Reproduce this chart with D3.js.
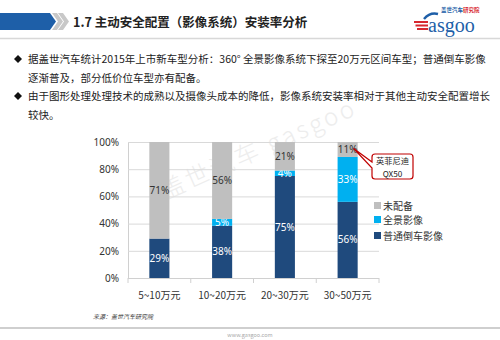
<!DOCTYPE html>
<html><head><meta charset="utf-8">
<script src="https://cdn.jsdelivr.net/npm/d3@7"></script>
<style>
html,body{margin:0;padding:0;background:#fff;}
svg{display:block;font-family:"Noto Sans CJK SC","Noto Sans",sans-serif;}
</style></head>
<body>
<svg id="c" width="500" height="340"></svg>
<script>
const categories = ["5~10万元","10~20万元","20~30万元","30~50万元"];
const seriesNames = ["普通倒车影像","全景影像","未配备"];
const rearCam = [29,38,75,56];
const surround = [0,5,4,33];
const none = [71,56,21,11];
const yTicks = [0,20,40,60,80,100];
const colors = ["#1f4a7d","#00b0f0","#bfbfbf"];
const bullets = [
  ["据盖世汽车统计2015年上市新车型分析：360°  全景影像系统下探至20万元区间车型；普通倒车影像","逐渐普及，部分低价位车型亦有配备。"],
  ["由于图形处理处理技术的成熟以及摄像头成本的降低，影像系统安装率相对于其他主动安全配置增长","较快。"]
];
const title = "1.7 主动安全配置（影像系统）安装率分析";
const callout = ["英菲尼迪","QX50"];

const svg = d3.select("#c");

// header
svg.append("path").attr("d","M0,13 L50,13 L56,21.5 L50,30 L0,30 Z").attr("fill","#1e5fa8");
[0,6].forEach(o=>{
  svg.append("path").attr("d",`M${52+o},13 L${57+o},13 L${63+o},21.5 L${57+o},30 L${52+o},30 L${58+o},21.5 Z`).attr("fill","#c8c8c8");
});
svg.append("text").attr("x",73).attr("y",27).attr("font-size",12.5).attr("font-weight","bold").attr("fill","#222").text(title);
svg.append("line").attr("x1",0).attr("x2",500).attr("y1",38.5).attr("y2",38.5).attr("stroke","#d8d8d8").attr("stroke-width",1.5);
// logo
const lg = svg.append("g");
[0,3.5,7].forEach((d,i)=>lg.append("rect").attr("x",414+i*1.5).attr("y",21+d).attr("width",14-i*1.5).attr("height",2).attr("fill","#d7282f"));
lg.append("path").attr("d","M424,19 Q430,12 438,14").attr("fill","none").attr("stroke","#1e5fa8").attr("stroke-width",2.5);
lg.append("text").attr("x",428).attr("y",32).attr("font-family","Liberation Serif,serif").attr("font-size",20).attr("fill","#1e5fa8").text("asgoo");
const lt = lg.append("text").attr("x",441).attr("y",12.3).attr("font-size",5.5).attr("font-weight","bold");
lt.append("tspan").attr("fill","#1e5fa8").text("盖世汽车");
lt.append("tspan").attr("fill","#d7282f").text("研究院");

// bullets
let ly = 63;
bullets.forEach(b=>{
  svg.append("path").attr("d",`M${18},${ly-8} l4,4 l-4,4 l-4,-4 Z`).attr("fill","#111");
  b.forEach(line=>{
    svg.append("text").attr("x",28).attr("y",ly).attr("font-size",10.5).attr("fill","#222").text(line);
    ly += 18.5;
  });
});

// chart
const x0 = 128, x1 = 379, yTop = 142, yBot = 278;
const x = d3.scaleBand().domain(categories).range([x0,x1]).paddingInner(0.68).paddingOuter(0.34);
const y = d3.scaleLinear().domain([0,100]).range([yBot,yTop]);

// watermark
svg.append("text").attr("transform","translate(165,200) rotate(-24)").attr("font-size",24).attr("font-weight",300).attr("fill","#ededed").attr("letter-spacing",3).text("盖世汽车 gasgoo");

const g = svg.append("g");
g.append("g").attr("transform",`translate(${x0},0)`)
  .call(d3.axisLeft(y).tickValues(yTicks).tickSize(-(x1-x0)).tickFormat(d=>d+"%").tickPadding(9))
  .call(a=>{a.select(".domain").attr("stroke","#d0d0d0");a.selectAll(".tick line").attr("stroke","#d9d9d9");
    a.selectAll("text").attr("font-size",10).attr("fill","#333").attr("font-family","Noto Sans,sans-serif");});

const data = categories.map((c,i)=>{
  const vals=[rearCam[i],surround[i],none[i]]; const s=d3.sum(vals);
  let acc=0; return vals.map((v,k)=>{const p=v/s*100;const o={c,k,v,y0:acc,y1:acc+p};acc+=p;return o;});
});
data.forEach(segs=>segs.forEach(s=>{
  if(s.v<=0) return;
  g.append("rect").attr("x",x(s.c)).attr("width",x.bandwidth()).attr("y",y(s.y1)).attr("height",y(s.y0)-y(s.y1)).attr("fill",colors[s.k]);
  g.append("text").attr("x",x(s.c)+x.bandwidth()/2).attr("y",(y(s.y0)+y(s.y1))/2+3.5).attr("text-anchor","middle")
   .attr("font-size",10).attr("font-family","Noto Sans,sans-serif").attr("fill",s.k===2?"#333":"#fff").text(s.v+"%");
}));

// x axis
g.append("line").attr("x1",x0).attr("x2",x1).attr("y1",yBot+0.5).attr("y2",yBot+0.5).attr("stroke","#d0d0d0");
d3.range(categories.length+1).forEach(i=>{
  const xx = x0 + i*(x1-x0)/categories.length;
  g.append("line").attr("x1",xx).attr("x2",xx).attr("y1",yBot).attr("y2",yBot+5).attr("stroke","#d0d0d0");
});
categories.forEach(c=>g.append("text").attr("x",x(c)+x.bandwidth()/2).attr("y",299).attr("text-anchor","middle").attr("font-size",10).attr("fill","#333").text(c));

// legend
const legY = [236,220,206];
seriesNames.forEach((n,k)=>{
  g.append("rect").attr("x",374).attr("y",legY[k]-4).attr("width",7).attr("height",7).attr("fill",colors[k]);
  g.append("text").attr("x",383).attr("y",legY[k]+3.5).attr("font-size",10).attr("fill","#333").text(n);
});

// callout
const last = data[3][2];
const tx = x(last.c)+x.bandwidth()/2+6, ty = (y(last.y0)+y(last.y1))/2-1;
const cg = g.append("g");
cg.append("path").attr("d",`M372,157 Q372,154 375,154 L410,154 Q413,154 413,157 L413,176 Q413,179 410,179 L375,179 Q372,179 372,176 L372,168 L${tx},${ty} L372,162 Z`)
  .attr("fill","#fff").attr("stroke","#c00000").attr("stroke-width",1.2);
cg.append("text").attr("x",392.5).attr("y",164.3).attr("text-anchor","middle").attr("font-size",8.2).attr("fill","#222").text(callout[0]);
cg.append("text").attr("x",392.5).attr("y",176.5).attr("text-anchor","middle").attr("font-size",8.2).attr("fill","#222").text(callout[1]);

// footer
svg.append("text").attr("x",93).attr("y",319).attr("font-size",6).attr("font-style","italic").attr("fill","#333").text("来源：盖世汽车研究院");
svg.append("line").attr("x1",0).attr("x2",500).attr("y1",328).attr("y2",328).attr("stroke","#cfcfcf").attr("stroke-width",2);
svg.append("text").attr("x",250).attr("y",337).attr("text-anchor","middle").attr("font-size",5.5).attr("fill","#aaa").text("www.gasgoo.com");
</script>
</body></html>
